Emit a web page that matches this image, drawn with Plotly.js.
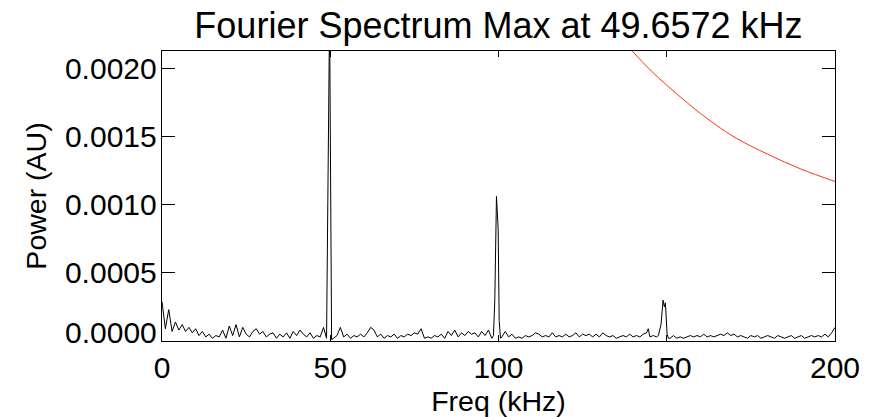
<!DOCTYPE html>
<html>
<head>
<meta charset="utf-8">
<script src="https://cdn.plot.ly/plotly-3.0.1.min.js"></script>
<style>html,body{margin:0;padding:0;background:#fff;}#chart{width:876px;height:417px;}</style>
</head>
<body>
<div id="chart"></div>
<script>
// Spectrum sample frequencies (kHz)
const freq = [
  0,1,2,3,4,5,6,7,8,9,10,11,12,13,14,15,16,17,18,19,20,21,22,23,24,25,26,27,28,29,
  30,31,32,33,34,35,36,37,38,39,40,41,42,43,44,45,46,47,48,
  48.9,49.8,50.4,
  51,52,53,54,55,56,57,58,59,60,61,62,63,64,65,66,67,68,69,70,71,72,73,74,75,76,77,78,79,
  80,81,82,83,84,85,86,87,88,89,90,91,92,93,94,95,96,97,98,
  98.5,98.9,99.4,99.9,100.2,100.6,
  101,102,103,104,105,106,107,108,109,110,111,112,113,114,115,116,117,118,119,120,121,122,
  123,124,125,126,127,128,129,130,131,132,133,134,135,136,137,138,139,140,141,142,143,144,
  144.5,145,146,147,
  147.5,148.3,148.9,149.3,149.6,150.1,150.5,
  151,152,153,154,155,156,157,158,159,160,161,162,163,164,165,166,167,168,169,170,171,172,
  173,174,175,176,177,178,179,180,181,182,183,184,185,186,187,188,189,190,191,192,193,194,
  195,196,197,198,199,200
];
// Spectral power (AU)
const power = [
  28.8e-5,9e-5,23e-5,7e-5,14e-5,8e-5,12e-5,7e-5,10e-5,6e-5,9e-5,4e-5,7e-5,3e-5,5e-5,2e-5,4e-5,3e-5,8e-5,2e-5,
  11e-5,4e-5,12e-5,3e-5,10e-5,5e-5,3e-5,7e-5,9e-5,5e-5,7e-5,3e-5,5e-5,6e-5,2e-5,5e-5,3e-5,6e-5,2e-5,7e-5,
  4e-5,8e-5,5e-5,3e-5,6e-5,2e-5,4e-5,3e-5,10e-5,
  2e-5,240e-5,1e-5,
  2e-5,4e-5,10e-5,3e-5,5e-5,2e-5,4e-5,3e-5,5e-5,3e-5,6e-5,10e-5,8e-5,3e-5,5e-5,2e-5,4e-5,3e-5,5e-5,2e-5,
  4e-5,3e-5,5e-5,4e-5,6e-5,5e-5,9e-5,2e-5,3e-5,
  2e-5,4e-5,3e-5,5e-5,2e-5,7e-5,4e-5,8e-5,3e-5,6e-5,4e-5,7e-5,5e-5,6e-5,3e-5,7e-5,4e-5,8e-5,2e-5,
  4e-5,30e-5,106e-5,82e-5,15e-5,2e-5,
  3e-5,7e-5,3e-5,5e-5,2e-5,3e-5,2e-5,4e-5,3e-5,4e-5,6e-5,5e-5,3e-5,4e-5,3e-5,6e-5,3e-5,4e-5,3e-5,5e-5,3e-5,4e-5,
  6e-5,3e-5,5e-5,4e-5,5e-5,3e-5,5e-5,3e-5,6e-5,4e-5,3e-5,4e-5,2e-5,3e-5,4e-5,3e-5,5e-5,3e-5,4e-5,3e-5,5e-5,6e-5,
  9e-5,3e-5,4e-5,3e-5,
  4e-5,12e-5,30e-5,25e-5,28e-5,5e-5,2e-5,
  2e-5,4e-5,2e-5,3e-5,2e-5,3e-5,4e-5,3e-5,4e-5,3e-5,5e-5,3e-5,4e-5,3e-5,4e-5,5e-5,4e-5,6e-5,4e-5,5e-5,3e-5,4e-5,
  3e-5,2e-5,4e-5,3e-5,4e-5,2e-5,3e-5,4e-5,3e-5,2e-5,4e-5,3e-5,2e-5,3e-5,4e-5,2e-5,3e-5,4e-5,2e-5,3e-5,4e-5,3e-5,
  4e-5,3e-5,5e-5,3e-5,6e-5,10e-5
];
// Red reference curve
const curveFreq = [135, 140, 145, 150, 155, 160, 170, 180, 190, 200];
const curvePower = [0.00226, 0.00212, 0.00199, 0.001876, 0.00177, 0.001669, 0.001497, 0.00137, 0.00126, 0.00117];

const titleText = 'Fourier Spectrum Max at 49.6572 kHz';
const xTitle = 'Freq (kHz)';
const yTitle = 'Power (AU)';
const yTickVals = [0, 0.0005, 0.0010, 0.0015, 0.0020];
const yTickText = ['', '0.0005', '0.0010', '0.0015', '0.0020'];
const xTickVals = [0, 50, 100, 150, 200];

const FONT = '"Liberation Sans", Arial, Helvetica, sans-serif';

const traces = [
  {x: freq, y: power, type: 'scatter', mode: 'lines',
   line: {color: '#000000', width: 1}, hoverinfo: 'skip'},
  {x: curveFreq, y: curvePower, type: 'scatter', mode: 'lines',
   line: {color: '#ff3311', width: 1, shape: 'spline', smoothing: 1}, hoverinfo: 'skip'}
];

const layout = {
  width: 876, height: 417,
  margin: {l: 162, r: 41, t: 51, b: 76, pad: 0},
  paper_bgcolor: '#ffffff', plot_bgcolor: '#ffffff',
  showlegend: false,
  font: {family: FONT, size: 30, color: '#000000'},
  title: {text: titleText, font: {family: FONT, size: 36, color: '#000'},
          x: 0.5, xref: 'paper', xanchor: 'center', y: 1 - 25/417, yref: 'container', yanchor: 'middle'},
  xaxis: {
    range: [0, 200], tickvals: xTickVals, ticktext: xTickVals.map(String),
    ticks: 'inside', ticklen: 6, tickwidth: 1, tickcolor: '#000',
    showline: true, linecolor: '#000', linewidth: 1.3, mirror: 'ticks',
    showgrid: false, zeroline: false,
    tickfont: {family: FONT, size: 30},
    title: {text: xTitle, font: {family: FONT, size: 28.5}, standoff: 8}
  },
  yaxis: {
    range: [0, 0.002127], tickvals: yTickVals, ticktext: yTickText,
    ticks: 'inside', ticklen: 13, tickwidth: 1, tickcolor: '#000',
    showline: true, linecolor: '#000', linewidth: 1.3, mirror: 'ticks',
    showgrid: false, zeroline: false,
    tickfont: {family: FONT, size: 30}, ticklabelstandoff: -2,
    title: {text: yTitle, font: {family: FONT, size: 28.5}, standoff: 10}
  },
  annotations: [
    {text: '0.0000', xref: 'paper', yref: 'y', x: 0, y: 0, xanchor: 'right', yanchor: 'middle',
     xshift: -3, yshift: 9, showarrow: false, font: {family: FONT, size: 30, color: '#000'}}
  ]
};

Plotly.newPlot('chart', traces, layout, {staticPlot: true, displayModeBar: false});
</script>
</body>
</html>
